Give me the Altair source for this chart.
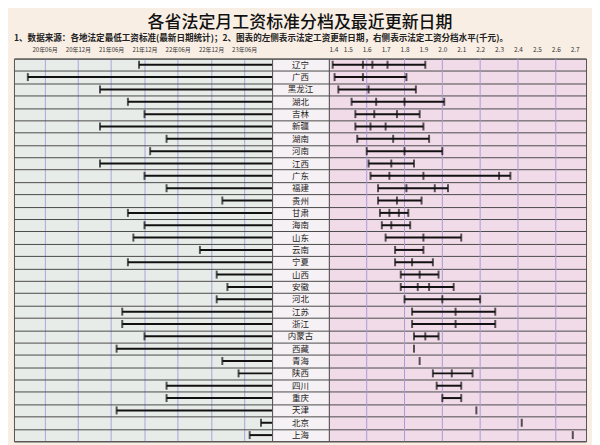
import altair as alt
import pandas as pd

provinces = ["辽宁", "广西", "黑龙江", "湖北", "吉林", "新疆", "湖南", "河南", "江西", "广东",
             "福建", "贵州", "甘肃", "海南", "山东", "云南", "宁夏", "山西", "安徽", "河北",
             "江苏", "浙江", "内蒙古", "西藏", "青海", "陕西", "四川", "重庆", "天津", "北京", "上海"]

update_dates = ["2021-11-01", "2020-03-01", "2021-04-01", "2021-09-01", "2021-12-01", "2021-04-01",
                "2022-04-01", "2022-01-01", "2021-04-01", "2021-12-01", "2022-04-01", "2023-02-01",
                "2021-09-01", "2021-12-01", "2021-10-01", "2022-10-01", "2021-09-01", "2023-01-01",
                "2023-03-01", "2023-01-01", "2021-08-01", "2021-08-01", "2021-12-01", "2021-07-01",
                "2023-02-01", "2023-05-01", "2022-04-01", "2022-04-01", "2021-07-01", "2023-09-01",
                "2023-07-01"]

wage_levels = [
    [1.42, 1.58, 1.63, 1.71, 1.91],
    [1.43, 1.58, 1.81],
    [1.45, 1.61, 1.86],
    [1.52, 1.65, 1.80, 2.01],
    [1.54, 1.64, 1.76, 1.88],
    [1.54, 1.62, 1.70, 1.90],
    [1.55, 1.74, 1.93],
    [1.60, 1.80, 2.00],
    [1.61, 1.73, 1.85],
    [1.62, 1.72, 1.90, 2.30, 2.36],
    [1.66, 1.81, 1.96, 2.03],
    [1.66, 1.76, 1.89],
    [1.67, 1.72, 1.77, 1.82],
    [1.68, 1.73, 1.83],
    [1.70, 1.90, 2.10],
    [1.75, 1.90],
    [1.75, 1.84, 1.95],
    [1.78, 1.88, 1.98],
    [1.78, 1.87, 1.93, 2.06],
    [1.80, 2.00, 2.20],
    [1.84, 2.07, 2.28],
    [1.84, 2.07, 2.28],
    [1.85, 1.91, 1.98],
    [1.85],
    [1.88],
    [1.95, 2.05, 2.16],
    [1.97, 2.10],
    [2.00, 2.10],
    [2.18],
    [2.42],
    [2.69],
]

cutoff_date = "2023-11-01"
date_tick_months = [(2020, 6), (2020, 12), (2021, 6), (2021, 12), (2022, 6), (2022, 12), (2023, 6)]
wage_ticks = [1.4, 1.5, 1.6, 1.7, 1.8, 1.9, 2.0, 2.1, 2.2, 2.3, 2.4, 2.5, 2.6, 2.7]
wage_grid = [1.6, 1.8, 2.0, 2.2, 2.4, 2.6]
wage_domain = [1.4, 2.76]

title_text = "各省法定月工资标准分档及最近更新日期"
subtitle_text = "1、数据来源：各地法定最低工资标准(最新日期统计)；2、图表的左侧表示法定工资更新日期，右侧表示法定工资分档水平(千元)。"

FONT = "Noto Sans CJK SC"

df_dates = pd.DataFrame({"province": provinces, "start": update_dates,
                         "end": [cutoff_date] * len(provinces)})
df_range = pd.DataFrame({"province": provinces,
                         "lo": [min(w) for w in wage_levels],
                         "hi": [max(w) for w in wage_levels]})
df_levels = pd.DataFrame([{"province": p, "wage": v} for p, ws in zip(provinces, wage_levels) for v in ws])
df_grid = pd.DataFrame({"g": wage_grid})
df_names = pd.DataFrame({"province": provinces})

W_LEFT, W_MID, W_RIGHT, H = 259, 57, 258, 384


def yenc():
    return alt.Y("province:N", sort=provinces,
                 scale=alt.Scale(type="band", paddingInner=0, paddingOuter=0),
                 axis=alt.Axis(title=None, labels=False, ticks=False, domain=False, grid=True,
                               tickBand="extent", gridColor="#4a4a4a", gridWidth=1, gridOpacity=1))


date_scale = alt.Scale(type="utc", domain=[alt.DateTime(year=2019, month=12, date=16, utc=True),
                                           alt.DateTime(year=2023, month=11, date=1, utc=True)])
date_axis = alt.Axis(title=None, orient="top", format="%y年%m月", formatType="time",
                     values=[alt.DateTime(year=y, month=m, date=1, utc=True) for y, m in date_tick_months],
                     ticks=False, tickSize=0, domain=False, grid=True, gridColor="#a7a7de", gridWidth=1,
                     labelFontSize=6, labelColor="#333", labelPadding=6, labelFont=FONT)

left_rules = alt.Chart(df_dates).mark_rule(color="#111", strokeWidth=2).encode(
    x=alt.X("start:T", scale=date_scale, axis=date_axis), x2="end:T", y=yenc())
left_ticks = alt.Chart(df_dates).mark_tick(color="#111", thickness=2, size=8).encode(
    x="start:T", y=yenc())
left = alt.layer(left_rules, left_ticks).properties(
    width=W_LEFT, height=H,
    view=alt.ViewBackground(fill="#e8ece9", stroke="#555", strokeWidth=1),
    title=alt.TitleParams(subtitle_text, anchor="start", fontSize=8.6, fontWeight="bold",
                          font=FONT, color="#222", offset=4))

mid = alt.Chart(df_names).mark_text(fontSize=8.5, font=FONT, color="#222").encode(
    y=yenc(), x=alt.value(W_MID / 2), text="province:N").properties(
    width=W_MID, height=H,
    view=alt.ViewBackground(fill="#f6f1f4", stroke="#555", strokeWidth=1))

wage_scale = alt.Scale(domain=wage_domain, nice=False, zero=False)
wage_axis = alt.Axis(title=None, orient="top", values=wage_ticks, format=".1f", ticks=False, tickSize=0,
                     domain=False, grid=False, labelFontSize=6.5, labelColor="#333", labelPadding=6,
                     labelFont=FONT)

right_grid = alt.Chart(df_grid).mark_rule(color="#a99bd8", strokeWidth=1).encode(
    x=alt.X("g:Q", scale=wage_scale, axis=wage_axis))
right_rules = alt.Chart(df_range).mark_rule(color="#111", strokeWidth=2).encode(
    x=alt.X("lo:Q", scale=wage_scale, axis=wage_axis), x2="hi:Q", y=yenc())
right_ticks = alt.Chart(df_levels).mark_tick(color="#111", thickness=2, size=8).encode(
    x=alt.X("wage:Q", scale=wage_scale, axis=wage_axis), y=yenc())
right = alt.layer(right_grid, right_rules, right_ticks).properties(
    width=W_RIGHT, height=H,
    view=alt.ViewBackground(fill="#f2dbe8", stroke="#555", strokeWidth=1))

chart = alt.hconcat(left, mid, right, spacing=0, bounds="flush").properties(
    title=alt.TitleParams(title_text, anchor="middle", fontSize=17, fontWeight=500,
                          font=FONT, color="#111", offset=2),
    background="#f8eee4",
    padding={"left": 5, "right": 5, "top": 4, "bottom": 5},
).configure_text(font=FONT)

chart.save("out.html", embed_options={"renderer": "svg", "actions": False})
